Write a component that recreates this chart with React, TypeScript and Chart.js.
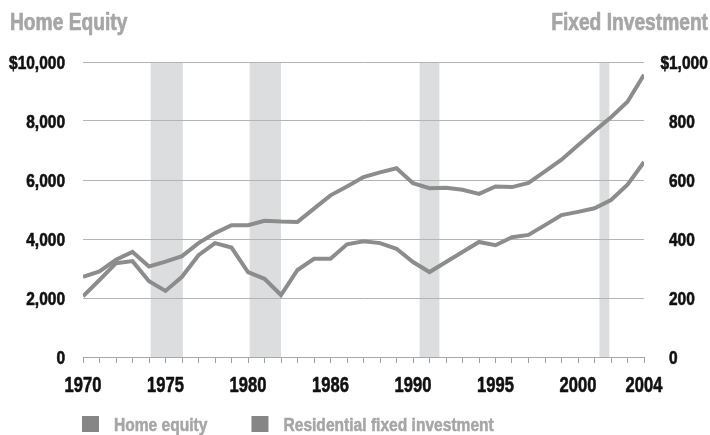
import React, { useEffect, useRef } from "react";
import { Chart, registerables } from "chart.js";

Chart.register(...registerables);

const years = [
  1970, 1971, 1972, 1973, 1974, 1975, 1976, 1977, 1978, 1979,
  1980, 1981, 1982, 1983, 1984, 1985, 1986, 1987, 1988, 1989,
  1990, 1991, 1992, 1993, 1994, 1995, 1996, 1997, 1998, 1999,
  2000, 2001, 2002, 2003, 2004,
];

const homeEquity = [
  2720, 2900, 3300, 3560, 3070, 3230, 3420, 3860, 4200, 4470,
  4470, 4620, 4590, 4580, 5030, 5480, 5780, 6100, 6260, 6400,
  5890, 5720, 5740, 5670, 5530, 5780, 5760, 5900, 6290, 6690,
  7180, 7660, 8130, 8650, 9570,
];

const residentialInvestment = [
  206, 261, 318, 325, 257, 224, 272, 345, 386, 371,
  288, 265, 210, 295, 333, 333, 382, 392, 386, 367,
  322, 288, 322, 356, 390, 379, 406, 414, 447, 481,
  492, 504, 532, 584, 661,
];

const xTickYears = [1970, 1975, 1980, 1985, 1990, 1995, 2000, 2004];
const xTickTexts = ["1970", "1975", "1980", "1986", "1990", "1995", "2000", "2004"];

const leftTickValues = [0, 2000, 4000, 6000, 8000, 10000];
const leftTickTexts = ["0", "2,000", "4,000", "6,000", "8,000", "$10,000"];

const rightTickValues = [0, 200, 400, 600, 800, 1000];
const rightTickTexts = ["0", "200", "400", "600", "800", "$1,000"];

const recessionStarts = [1974.1, 1980.1, 1990.4, 2001.3];
const recessionEnds = [1976.05, 1982.0, 1991.6, 2001.9];

const seriesNames = ["Home equity", "Residential fixed investment"];
const leftTitle = "Home Equity";
const rightTitle = "Fixed Investment";

const FONT = "'Liberation Sans', Arial, sans-serif";
const LINE_COLOR = "#8c8c8c";
const BAND_COLOR = "#dcdddf";
const GRID_COLOR = "#b4b4b4";
const TEXT_DARK = "#111111";
const TEXT_LIGHT = "#a6a6a6";
const LEGEND_BOX = "#868686";

// draw horizontally condensed heavy text
function narrowText(
  ctx: CanvasRenderingContext2D,
  text: string,
  x: number,
  y: number,
  size: number,
  sx: number,
  align: CanvasTextAlign,
  color: string,
  stroke = 0.6
) {
  ctx.save();
  ctx.font = `bold ${size}px ${FONT}`;
  ctx.fillStyle = color;
  ctx.strokeStyle = color;
  ctx.lineWidth = stroke;
  ctx.lineJoin = "round";
  ctx.textAlign = align;
  ctx.textBaseline = "alphabetic";
  ctx.translate(x, y);
  ctx.scale(sx, 1);
  ctx.fillText(text, 0, 0);
  if (stroke > 0) ctx.strokeText(text, 0, 0);
  ctx.restore();
}

function narrowWidth(ctx: CanvasRenderingContext2D, text: string, size: number, sx: number) {
  ctx.save();
  ctx.font = `bold ${size}px ${FONT}`;
  const w = ctx.measureText(text).width * sx;
  ctx.restore();
  return w;
}

const bandsPlugin = {
  id: "recessionBands",
  beforeDraw(chart: any) {
    const { ctx, chartArea, scales } = chart;
    ctx.save();
    ctx.fillStyle = BAND_COLOR;
    recessionStarts.forEach((s, i) => {
      const x0 = scales.x.getPixelForValue(s);
      const x1 = scales.x.getPixelForValue(recessionEnds[i]);
      ctx.fillRect(x0, chartArea.top, x1 - x0, chartArea.bottom - chartArea.top);
    });
    ctx.restore();
  },
};

const decorPlugin = {
  id: "decor",
  afterDraw(chart: any) {
    const { ctx, scales, chartArea } = chart;

    // titles
    narrowText(ctx, leftTitle, 10, 30, 24, 0.8, "left", TEXT_LIGHT, 0.7);
    narrowText(ctx, rightTitle, 708, 30, 24, 0.8, "right", TEXT_LIGHT, 0.7);

    // left axis labels
    leftTickValues.forEach((v, i) => {
      const y = scales.y.getPixelForValue(v);
      narrowText(ctx, leftTickTexts[i], chartArea.left - 18, y + 6.8, 18, 0.86, "right", TEXT_DARK);
    });

    // right axis labels (numbers aligned, "$" hanging)
    const dollarW = narrowWidth(ctx, "$", 18, 0.86);
    const baseX = chartArea.right + 25;
    rightTickValues.forEach((v, i) => {
      const y = scales.y1.getPixelForValue(v);
      const t = rightTickTexts[i];
      const x = t.startsWith("$") ? baseX - dollarW : baseX;
      narrowText(ctx, t, x, y + 6.8, 18, 0.86, "left", TEXT_DARK);
    });

    // x axis labels
    xTickYears.forEach((yr, i) => {
      const x = scales.x.getPixelForValue(yr);
      narrowText(ctx, xTickTexts[i], x, 392, 21.5, 0.77, "center", TEXT_DARK);
    });

    // legend
    let x = 82;
    seriesNames.forEach((name) => {
      ctx.save();
      ctx.fillStyle = LEGEND_BOX;
      ctx.fillRect(x, 416, 17, 16);
      ctx.restore();
      x += 17 + 15;
      narrowText(ctx, name, x, 431, 17.5, 0.89, "left", TEXT_LIGHT, 0.5);
      x += narrowWidth(ctx, name, 17.5, 0.89) + 44;
    });
  },
};

export default function App() {
  const ref = useRef<HTMLCanvasElement | null>(null);

  useEffect(() => {
    document.body.style.margin = "0";
    if (!ref.current) return;
    const chart = new Chart(ref.current, {
      type: "line",
      data: {
        datasets: [
          {
            label: seriesNames[0],
            data: years.map((yr, i) => ({ x: yr, y: homeEquity[i] })),
            yAxisID: "y",
            borderColor: LINE_COLOR,
            borderWidth: 4,
            pointRadius: 0,
            tension: 0,
          },
          {
            label: seriesNames[1],
            data: years.map((yr, i) => ({ x: yr, y: residentialInvestment[i] })),
            yAxisID: "y1",
            borderColor: LINE_COLOR,
            borderWidth: 4,
            pointRadius: 0,
            tension: 0,
          },
        ],
      },
      plugins: [bandsPlugin, decorPlugin],
      options: {
        animation: false,
        responsive: false,
        devicePixelRatio: 1,
        layout: { padding: { top: 62, bottom: 40, left: 0, right: 0 } },
        plugins: {
          legend: { display: false },
          tooltip: { enabled: false },
          title: { display: false },
        },
        scales: {
          x: {
            type: "linear",
            min: 1970,
            max: 2004,
            afterFit: (s: any) => {
              s.height = 38;
            },
            afterBuildTicks: (s: any) => {
              s.ticks = years.map((v) => ({ value: v }));
            },
            ticks: { display: false, autoSkip: false, maxRotation: 0 },
            grid: {
              drawOnChartArea: false,
              drawTicks: true,
              tickLength: 6,
              color: "#a0a0a0",
            },
            border: { display: true, color: "#a8a8a8", width: 1 },
          },
          y: {
            type: "linear",
            position: "left",
            min: 0,
            max: 10000,
            afterFit: (s: any) => {
              s.width = 83;
            },
            afterBuildTicks: (s: any) => {
              s.ticks = leftTickValues.map((v) => ({ value: v }));
            },
            ticks: { display: false },
            grid: { color: GRID_COLOR, drawTicks: false, lineWidth: 1 },
            border: { display: false },
          },
          y1: {
            type: "linear",
            position: "right",
            min: 0,
            max: 1000,
            afterFit: (s: any) => {
              s.width = 66;
            },
            afterBuildTicks: (s: any) => {
              s.ticks = rightTickValues.map((v) => ({ value: v }));
            },
            ticks: { display: false },
            grid: { drawOnChartArea: false, drawTicks: false },
            border: { display: false },
          },
        },
      },
    });
    return () => chart.destroy();
  }, []);

  return (
    <div style={{ width: 710, height: 435 }}>
      <canvas ref={ref} width={710} height={435} style={{ display: "block" }} />
    </div>
  );
}
